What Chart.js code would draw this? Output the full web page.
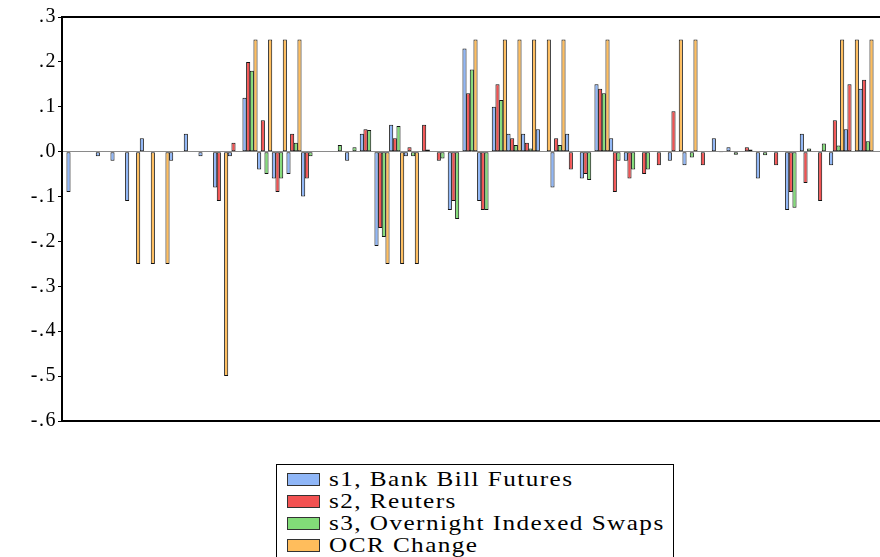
<!DOCTYPE html>
<html>
<head>
<meta charset="utf-8">
<script src="https://cdn.jsdelivr.net/npm/chart.js@4.4.1/dist/chart.umd.min.js"></script>
<style>
  html, body { margin: 0; padding: 0; background: #fff; overflow: hidden; }
  #wrap { position: relative; width: 880px; height: 557px; }
  #legend {
    position: absolute; left: 276px; top: 464px; width: 398px; height: 110px;
    border: 1px solid #000; box-sizing: border-box; padding: 3px 0 0 10px;
    font-family: "Liberation Serif", serif; font-size: 21px; color: #000; background: #fff;
  }
  .item { height: 22px; display: flex; align-items: center; white-space: nowrap; }
  .sw { width: 33px; height: 13px; border: 1px solid #333; box-sizing: border-box; margin-right: 9px; flex: none; }
  .lbl { display: inline-block; transform: scaleX(1.2); transform-origin: left center; letter-spacing: 1.2px; line-height: 22px; }
</style>
</head>
<body>
<div id="wrap">
  <canvas id="chart" width="880" height="557"></canvas>
  <div id="legend"></div>
</div>
<script>
/* ── Datos (55 observaciones) ── */
const s1 = [
  -0.09, 0, -0.01, -0.02, -0.11, 0.03, 0, -0.02, 0.04, -0.01,
  -0.08, -0.01, 0.12, -0.04, -0.06, -0.05, -0.10, 0, 0, -0.02,
  0.04, -0.21, 0.06, -0.01, 0, 0, -0.13, 0.23, -0.11, 0.10,
  0.04, 0.04, 0.05, -0.08, 0.04, -0.06, 0.15, 0.03, -0.02, 0,
  0, -0.02, -0.03, 0, 0.03, 0.01, 0, -0.06, 0, -0.13,
  0.04, 0, -0.03, 0.05, 0.14
];
const s2 = [
  0, 0, 0, 0, 0, 0, 0, 0, 0, 0,
  -0.11, 0.02, 0.20, 0.07, -0.09, 0.04, -0.06, 0, 0, 0,
  0.05, -0.17, 0.03, 0.01, 0.06, -0.02, -0.11, 0.13, -0.13, 0.15,
  0.03, 0.02, 0, 0.03, -0.04, -0.05, 0.14, -0.09, -0.06, -0.05,
  -0.03, 0.09, 0, -0.03, 0, 0, 0.01, 0, -0.03, -0.09,
  -0.07, -0.11, 0.07, 0.15, 0.16
];
const s3 = [
  0, 0, 0, 0, 0, 0, 0, 0, 0, 0,
  0, 0, 0.18, -0.05, -0.06, 0.02, -0.01, 0, 0.015, 0.01,
  0.048, -0.19, 0.057, -0.01, 0.005, -0.015, -0.15, 0.183, -0.13, 0.115,
  0.015, 0.007, 0, 0.015, 0, -0.063, 0.13, -0.02, -0.04, -0.04,
  0, 0, -0.013, 0, -0.002, -0.007, 0.005, -0.008, 0, -0.125,
  0.007, 0.018, 0.014, 0, 0.023
];
const ocr = [
  0, 0, 0, 0, -0.25, -0.25, -0.25, 0, 0, 0,
  -0.5, 0, 0.25, 0.25, 0.25, 0.25, 0, 0, 0, 0,
  0, -0.25, -0.25, -0.25, 0, 0, 0, 0.25, 0, 0.25,
  0.25, 0.25, 0.25, 0.25, 0, 0, 0.25, 0, 0, 0,
  0, 0.25, 0.25, 0, 0, 0, 0, 0, 0, 0,
  0, 0, 0.25, 0.25, 0.25
];
const obs = s1.map((_, i) => i);
const yTicks = [0.3, 0.2, 0.1, 0, -0.1, -0.2, -0.3, -0.4, -0.5, -0.6];

const series = [
  { label: 's1, Bank Bill Futures',        vals: s1,  color: '#8fb6f7' },
  { label: 's2, Reuters',                  vals: s2,  color: '#f25252' },
  { label: 's3, Overnight Indexed Swaps',  vals: s3,  color: '#82dc78' },
  { label: 'OCR Change',                   vals: ocr, color: '#ffbd5c' },
];

/* ── Marco del gráfico + espaciado de letras de los ticks ── */
const framePlugin = {
  id: 'frame',
  beforeDraw(chart) {
    chart.ctx.letterSpacing = '1.5px';
  },
  afterDatasetsDraw(chart) {
    const { ctx, chartArea: a } = chart;
    ctx.save();
    ctx.strokeStyle = '#000';
    ctx.lineWidth = 2;
    ctx.beginPath();
    ctx.moveTo(a.left, a.top);    ctx.lineTo(a.right, a.top);
    ctx.moveTo(a.left, a.bottom); ctx.lineTo(a.right, a.bottom);
    ctx.stroke();
    ctx.restore();
  },
  afterDraw(chart) {
    chart.ctx.letterSpacing = '0px';
  }
};

function fmtTick(v) {
  const r = Math.round(v * 10) / 10;
  if (r === 0) return '.0';
  return r.toFixed(1).replace('0.', '.');
}

new Chart(document.getElementById('chart'), {
  type: 'bar',
  data: {
    datasets: series.map(s => ({
      label: s.label,
      data: obs.map(i => ({ x: i, y: s.vals[i] })),
      backgroundColor: s.color,
      borderColor: '#111',
      borderWidth: 1,
      borderSkipped: false,
      categoryPercentage: 1.0,
      barPercentage: 1.12,
    }))
  },
  options: {
    responsive: false,
    animation: false,
    devicePixelRatio: 1,
    layout: { padding: { top: 17, bottom: 136, left: 0, right: 0 } },
    plugins: { legend: { display: false }, tooltip: { enabled: false } },
    scales: {
      x: { type: 'linear', display: false, offset: false, min: -0.818, max: 54.955 },
      y: {
        min: -0.6, max: 0.3,
        afterBuildTicks: s => { s.ticks = yTicks.map(v => ({ value: v })); },
        afterFit: s => { s.width = 62; },
        ticks: {
          callback: v => fmtTick(v),
          font: { family: 'Liberation Serif', size: 20 },
          color: '#000',
          padding: 1,
        },
        grid: {
          drawOnChartArea: true,
          color: c => (c.tick && Math.abs(c.tick.value) < 1e-9) ? '#8a8a8a' : 'rgba(0,0,0,0)',
          tickColor: '#000',
          tickLength: 4,
          lineWidth: 1,
        },
        border: { display: true, color: '#000', width: 2 },
      }
    }
  },
  plugins: [framePlugin]
});

/* ── Leyenda ── */
const leg = document.getElementById('legend');
series.forEach(s => {
  const row = document.createElement('div');
  row.className = 'item';
  row.innerHTML = `<span class="sw" style="background:${s.color}"></span><span class="lbl">${s.label}</span>`;
  leg.appendChild(row);
});
</script>
</body>
</html>
